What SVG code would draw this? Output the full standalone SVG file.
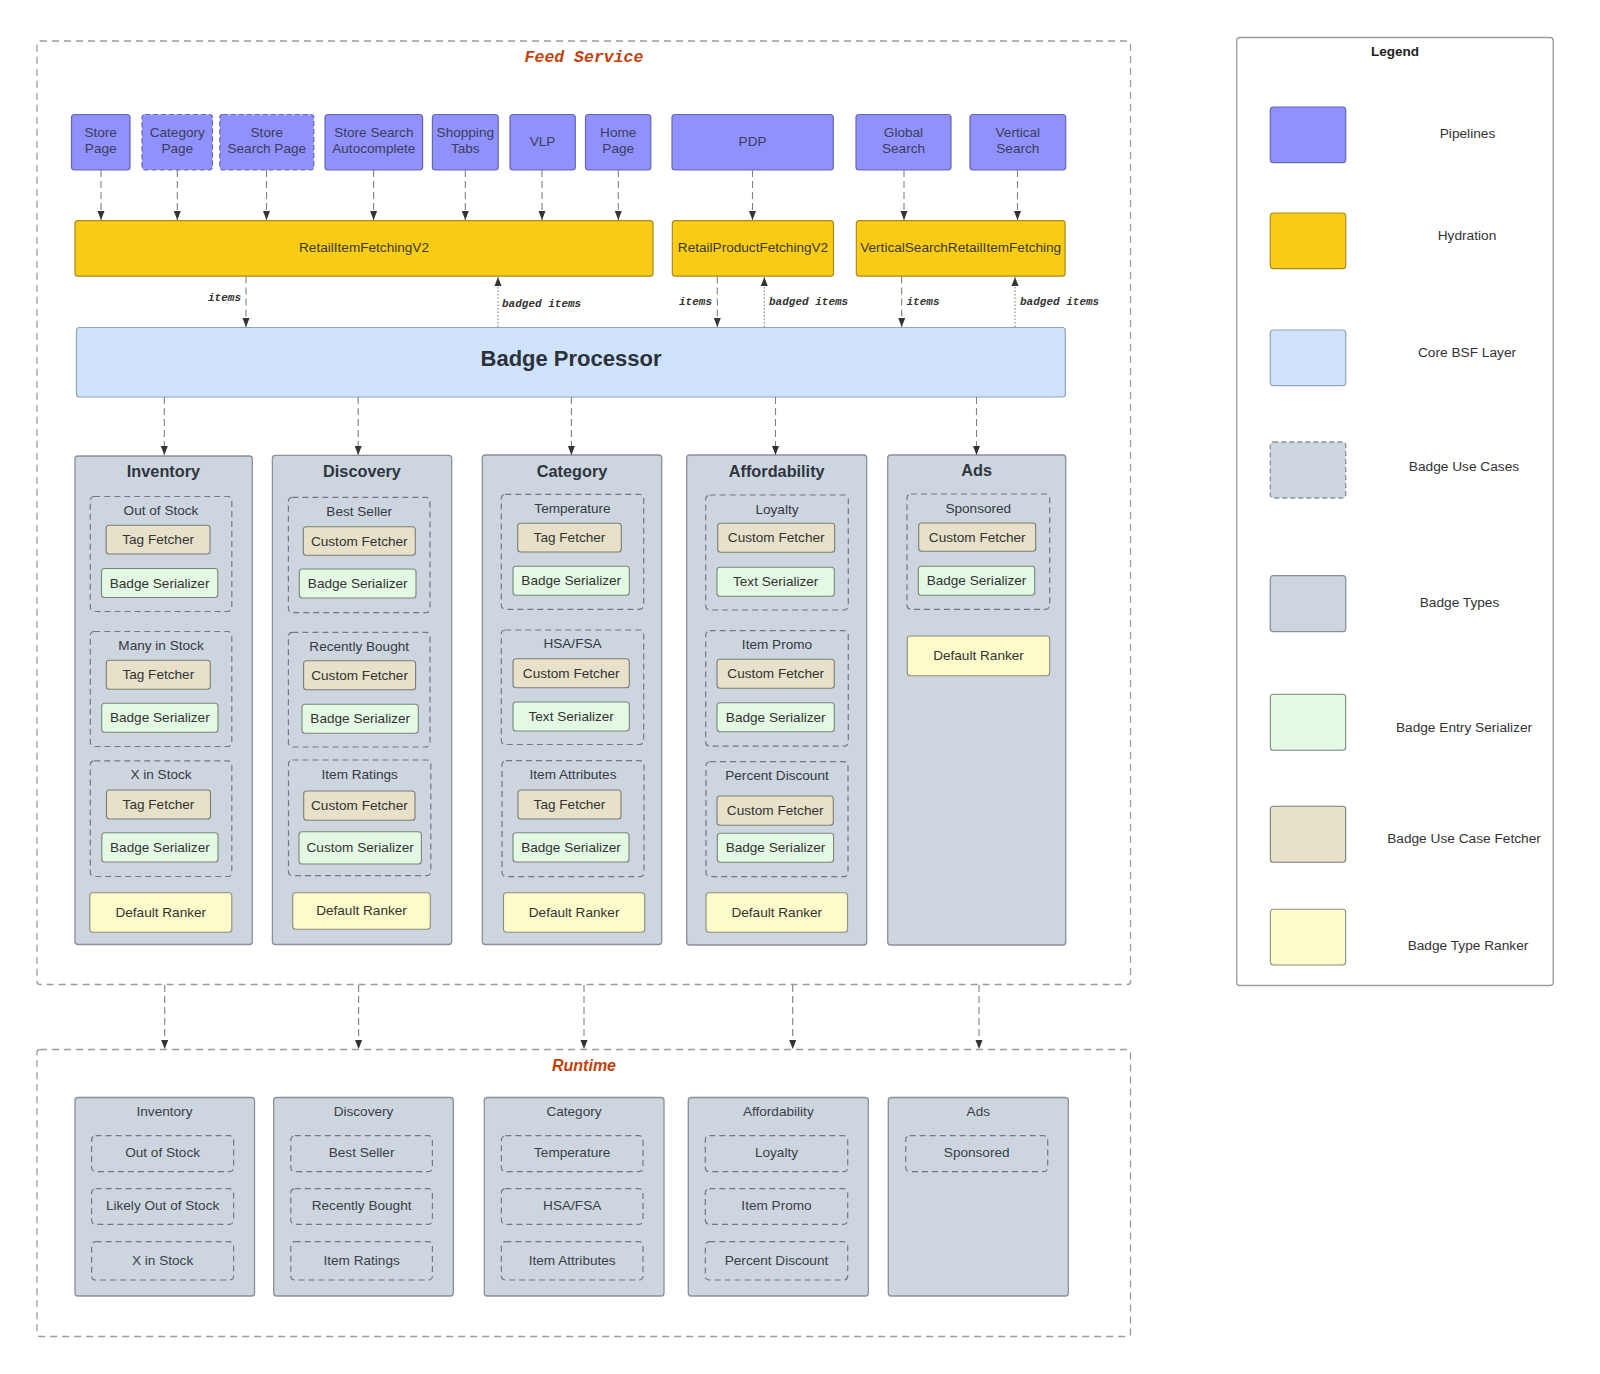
<svg xmlns="http://www.w3.org/2000/svg" width="1600" height="1374" viewBox="0 0 1600 1374">
<defs>
<marker id="ah" markerUnits="userSpaceOnUse" markerWidth="9" markerHeight="8" refX="9" refY="4" orient="auto">
<path d="M0,0.5 L9,4 L0,7.5 z" fill="#333"/>
</marker>
<style>
text{font-family:"Liberation Sans",Arial,sans-serif;fill:#333;text-anchor:middle;dominant-baseline:central}
.frame{fill:none;stroke:#9c9c9c;stroke-width:1.3;stroke-dasharray:7,5}
.pipe{fill:#9191fd;stroke:#6565b5;stroke-width:1.2}
.pipe.d{stroke-dasharray:5,3}
.pt{font-size:13.6px;fill:#3a3d5c}
.hyd{fill:#facc15;stroke:#a98a1a;stroke-width:1.2}
.ht{font-size:13.6px;fill:#3a3a2a}
.bp{fill:#cfe3fd;stroke:#92a3b8;stroke-width:1.2}
.cat{fill:#cdd5df;stroke:#8a9099;stroke-width:1.3}
.ct{font-size:16.3px;font-weight:bold;fill:#2f3540}
.uc{fill:none;stroke:#737983;stroke-width:1.2;stroke-dasharray:6,4}
.ut{font-size:13.6px;fill:#353a44}
.fet{fill:#e6e1c8;stroke:#7d7d78;stroke-width:1.1}
.ser{fill:#e3f9e4;stroke:#7b857c;stroke-width:1.1}
.rnk{fill:#fdfbc9;stroke:#8d8d80;stroke-width:1.1}
.bt{font-size:13.6px;fill:#333}
.rt{font-size:13.6px;fill:#3a3f48}
.cn{fill:none;stroke:#808080;stroke-width:1.1;stroke-dasharray:7,4}
.dot{fill:none;stroke:#808080;stroke-width:1.1;stroke-dasharray:1.5,2}
.lbl{font-family:"Liberation Mono","Courier New",monospace;font-size:11px;font-weight:bold;font-style:italic;fill:#333}
.lg{fill:none;stroke:#9c9c9c;stroke-width:1.3}
.lt{font-size:13.7px;fill:#333}
</style>
</defs>
<rect width="1600" height="1374" fill="#ffffff"/>

<!-- Frames -->
<g id="feed-service">
<rect class="frame" x="37" y="41" width="1093.5" height="943.5" rx="3"/>
<text x="584" y="57" style="font-family:'Liberation Mono','Courier New',monospace;font-size:16.5px;font-weight:bold;font-style:italic;fill:#c2410c">Feed Service</text>
</g>
<g id="runtime">
<rect class="frame" x="37" y="1049.5" width="1093.5" height="287" rx="3"/>
<text x="584" y="1065" style="font-size:16px;font-weight:bold;font-style:italic;fill:#c2410c">Runtime</text>
</g>

<!-- Pipelines -->
<g id="p-store-page"><rect class="pipe" x="71.5" y="114.5" width="58.5" height="55.5" rx="3"/><text class="pt" x="100.7" y="132">Store</text><text class="pt" x="100.7" y="148.5">Page</text></g>
<g id="p-category-page"><rect class="pipe d" x="142" y="114.5" width="70.5" height="55.5" rx="3"/><text class="pt" x="177.3" y="132">Category</text><text class="pt" x="177.3" y="148.5">Page</text></g>
<g id="p-store-search-page"><rect class="pipe d" x="219.8" y="114.5" width="94" height="55.5" rx="3"/><text class="pt" x="266.8" y="132">Store</text><text class="pt" x="266.8" y="148.5">Search Page</text></g>
<g id="p-autocomplete"><rect class="pipe" x="325" y="114.5" width="97.6" height="55.5" rx="3"/><text class="pt" x="373.8" y="132">Store Search</text><text class="pt" x="373.8" y="148.5">Autocomplete</text></g>
<g id="p-shopping-tabs"><rect class="pipe" x="432.4" y="114.5" width="65.8" height="55.5" rx="3"/><text class="pt" x="465.3" y="132">Shopping</text><text class="pt" x="465.3" y="148.5">Tabs</text></g>
<g id="p-vlp"><rect class="pipe" x="510" y="114.5" width="65.3" height="55.5" rx="3"/><text class="pt" x="542.6" y="141">VLP</text></g>
<g id="p-home-page"><rect class="pipe" x="585.5" y="114.5" width="65.3" height="55.5" rx="3"/><text class="pt" x="618.2" y="132">Home</text><text class="pt" x="618.2" y="148.5">Page</text></g>
<g id="p-pdp"><rect class="pipe" x="672" y="114.5" width="161.3" height="55.5" rx="3"/><text class="pt" x="752.6" y="141">PDP</text></g>
<g id="p-global-search"><rect class="pipe" x="856" y="114.5" width="95" height="55.5" rx="3"/><text class="pt" x="903.5" y="132">Global</text><text class="pt" x="903.5" y="148.5">Search</text></g>
<g id="p-vertical-search"><rect class="pipe" x="970" y="114.5" width="95.7" height="55.5" rx="3"/><text class="pt" x="1017.8" y="132">Vertical</text><text class="pt" x="1017.8" y="148.5">Search</text></g>

<!-- Hydration -->
<g id="h-retail-item"><rect class="hyd" x="75" y="220.7" width="578" height="55.5" rx="3"/><text class="ht" x="364" y="247.5">RetailItemFetchingV2</text></g>
<g id="h-retail-product"><rect class="hyd" x="672.3" y="220.7" width="161.2" height="55.5" rx="3"/><text class="ht" x="753" y="247.5">RetailProductFetchingV2</text></g>
<g id="h-vertical-search"><rect class="hyd" x="856.3" y="220.7" width="208.8" height="55.5" rx="3"/><text class="ht" x="960.7" y="247.5">VerticalSearchRetailItemFetching</text></g>

<!-- Badge Processor -->
<g id="badge-processor"><rect class="bp" x="76.5" y="327.5" width="988.8" height="69.5" rx="3"/><text x="571" y="358.5" style="font-size:22px;font-weight:bold;fill:#2c313a">Badge Processor</text></g>

<!-- Badge Types: Inventory -->
<g id="t-inventory">
<rect class="cat" x="75" y="456" width="177.3" height="488.5" rx="3"/>
<text class="ct" x="163.5" y="471">Inventory</text>
<rect class="uc" x="90.3" y="496.5" width="141.5" height="115" rx="4"/>
<text class="ut" x="161" y="510">Out of Stock</text>
<rect class="fet" x="106.2" y="525.3" width="103.8" height="28.7" rx="3"/><text class="bt" x="158.1" y="539.7">Tag Fetcher</text>
<rect class="ser" x="101.5" y="568.5" width="116.3" height="29" rx="3"/><text class="bt" x="159.6" y="583">Badge Serializer</text>
<rect class="uc" x="90.3" y="631.5" width="141.5" height="115" rx="4"/>
<text class="ut" x="161" y="645">Many in Stock</text>
<rect class="fet" x="106.3" y="660.3" width="104" height="28.9" rx="3"/><text class="bt" x="158.3" y="674.8">Tag Fetcher</text>
<rect class="ser" x="101.7" y="703.3" width="116.3" height="28.9" rx="3"/><text class="bt" x="159.8" y="717.8">Badge Serializer</text>
<rect class="uc" x="90.3" y="760.8" width="141.5" height="115.7" rx="4"/>
<text class="ut" x="161" y="774.5">X in Stock</text>
<rect class="fet" x="106.5" y="790" width="104" height="29" rx="3"/><text class="bt" x="158.5" y="804.5">Tag Fetcher</text>
<rect class="ser" x="101.8" y="832.8" width="116.2" height="29.2" rx="3"/><text class="bt" x="159.9" y="847.4">Badge Serializer</text>
<rect class="rnk" x="89.8" y="892.8" width="142" height="39.5" rx="3"/><text class="bt" x="160.8" y="912.6">Default Ranker</text>
</g>

<!-- Discovery -->
<g id="t-discovery">
<rect class="cat" x="272.4" y="455.3" width="179.3" height="489.2" rx="3"/>
<text class="ct" x="362" y="470.5">Discovery</text>
<rect class="uc" x="288.4" y="497.3" width="141.6" height="115.4" rx="4"/>
<text class="ut" x="359.2" y="511">Best Seller</text>
<rect class="fet" x="303.3" y="526.7" width="112" height="28.6" rx="3"/><text class="bt" x="359.3" y="541">Custom Fetcher</text>
<rect class="ser" x="299.3" y="569" width="116.7" height="29" rx="3"/><text class="bt" x="357.7" y="583.5">Badge Serializer</text>
<rect class="uc" x="288.4" y="632.3" width="141.6" height="114.7" rx="4"/>
<text class="ut" x="359.2" y="646">Recently Bought</text>
<rect class="fet" x="303.6" y="660.7" width="112" height="29" rx="3"/><text class="bt" x="359.6" y="675.2">Custom Fetcher</text>
<rect class="ser" x="302" y="704.3" width="116.3" height="29" rx="3"/><text class="bt" x="360.2" y="718.8">Badge Serializer</text>
<rect class="uc" x="288.5" y="760" width="142.3" height="115.7" rx="4"/>
<text class="ut" x="359.7" y="774.3">Item Ratings</text>
<rect class="fet" x="303.7" y="791" width="111.3" height="29.3" rx="3"/><text class="bt" x="359.4" y="805.7">Custom Fetcher</text>
<rect class="ser" x="299" y="831.7" width="122.4" height="32.3" rx="3"/><text class="bt" x="360.2" y="847.8">Custom Serializer</text>
<rect class="rnk" x="292.7" y="892.7" width="137.6" height="36.6" rx="3"/><text class="bt" x="361.5" y="910.5">Default Ranker</text>
</g>

<!-- Category -->
<g id="t-category">
<rect class="cat" x="482.3" y="455" width="179.4" height="489.5" rx="3"/>
<text class="ct" x="572" y="470.5">Category</text>
<rect class="uc" x="501.3" y="494.3" width="142.4" height="115" rx="4"/>
<text class="ut" x="572.5" y="508">Temperature</text>
<rect class="fet" x="517.7" y="523.3" width="103.6" height="28.7" rx="3"/><text class="bt" x="569.5" y="537.7">Tag Fetcher</text>
<rect class="ser" x="513" y="566.3" width="116.3" height="29" rx="3"/><text class="bt" x="571.2" y="580.8">Badge Serializer</text>
<rect class="uc" x="501.3" y="630" width="142.4" height="114.5" rx="4"/>
<text class="ut" x="572.5" y="643.5">HSA/FSA</text>
<rect class="fet" x="513" y="658.7" width="116.3" height="29" rx="3"/><text class="bt" x="571.2" y="673.2">Custom Fetcher</text>
<rect class="ser" x="513" y="702" width="116.3" height="29" rx="3"/><text class="bt" x="571.2" y="716.5">Text Serializer</text>
<rect class="uc" x="502" y="760.7" width="142" height="116" rx="4"/>
<text class="ut" x="573" y="774.5">Item Attributes</text>
<rect class="fet" x="518" y="790" width="103" height="29" rx="3"/><text class="bt" x="569.5" y="804.5">Tag Fetcher</text>
<rect class="ser" x="513" y="832.8" width="116" height="29.2" rx="3"/><text class="bt" x="571" y="847.4">Badge Serializer</text>
<rect class="rnk" x="503.5" y="892.8" width="141.2" height="39.5" rx="3"/><text class="bt" x="574.1" y="912.6">Default Ranker</text>
</g>

<!-- Affordability -->
<g id="t-affordability">
<rect class="cat" x="686.7" y="455" width="180" height="490" rx="3"/>
<text class="ct" x="776.7" y="470.5">Affordability</text>
<rect class="uc" x="705.7" y="495" width="142.6" height="115" rx="4"/>
<text class="ut" x="777" y="509">Loyalty</text>
<rect class="fet" x="717.7" y="523.3" width="117" height="29" rx="3"/><text class="bt" x="776.2" y="537.8">Custom Fetcher</text>
<rect class="ser" x="717" y="567.3" width="117.3" height="29" rx="3"/><text class="bt" x="775.7" y="581.8">Text Serializer</text>
<rect class="uc" x="705.7" y="630.7" width="142.6" height="115.5" rx="4"/>
<text class="ut" x="777" y="644">Item Promo</text>
<rect class="fet" x="717" y="659.3" width="117.3" height="29" rx="3"/><text class="bt" x="775.7" y="673.8">Custom Fetcher</text>
<rect class="ser" x="717" y="702.7" width="117.3" height="29" rx="3"/><text class="bt" x="775.7" y="717.2">Badge Serializer</text>
<rect class="uc" x="706" y="761.7" width="142" height="115" rx="4"/>
<text class="ut" x="777" y="775.3">Percent Discount</text>
<rect class="fet" x="717" y="796" width="116.3" height="29.3" rx="3"/><text class="bt" x="775.2" y="810.7">Custom Fetcher</text>
<rect class="ser" x="717.3" y="833.3" width="116.3" height="29" rx="3"/><text class="bt" x="775.5" y="847.8">Badge Serializer</text>
<rect class="rnk" x="706" y="892.8" width="141.6" height="39.5" rx="3"/><text class="bt" x="776.8" y="912.6">Default Ranker</text>
</g>

<!-- Ads -->
<g id="t-ads">
<rect class="cat" x="887.7" y="455" width="178" height="490" rx="3"/>
<text class="ct" x="976.7" y="470">Ads</text>
<rect class="uc" x="907" y="494" width="142.7" height="115.3" rx="4"/>
<text class="ut" x="978.3" y="508.3">Sponsored</text>
<rect class="fet" x="918.7" y="523" width="117" height="28.3" rx="3"/><text class="bt" x="977.2" y="537.2">Custom Fetcher</text>
<rect class="ser" x="918.3" y="566.3" width="116.4" height="29" rx="3"/><text class="bt" x="976.5" y="580.8">Badge Serializer</text>
<rect class="rnk" x="907.3" y="636" width="142.4" height="39.7" rx="3"/><text class="bt" x="978.5" y="655.8">Default Ranker</text>
</g>

<!-- Runtime types -->
<g id="r-inventory">
<rect class="cat" x="75" y="1097.5" width="179.5" height="198.5" rx="3"/>
<text class="rt" x="164.5" y="1111.5">Inventory</text>
<rect class="uc" x="91.6" y="1135.7" width="142" height="36" rx="4"/><text class="rt" x="162.6" y="1152">Out of Stock</text>
<rect class="uc" x="91.6" y="1188.7" width="142" height="35.6" rx="4"/><text class="rt" x="162.6" y="1205">Likely Out of Stock</text>
<rect class="uc" x="91.6" y="1241.7" width="142" height="38.3" rx="4"/><text class="rt" x="162.6" y="1260">X in Stock</text>
</g>
<g id="r-discovery">
<rect class="cat" x="273.7" y="1097.5" width="179.6" height="198.5" rx="3"/>
<text class="rt" x="363.5" y="1111.5">Discovery</text>
<rect class="uc" x="290.8" y="1135.7" width="141.6" height="36" rx="4"/><text class="rt" x="361.6" y="1152">Best Seller</text>
<rect class="uc" x="290.8" y="1188.7" width="141.6" height="35.6" rx="4"/><text class="rt" x="361.6" y="1205">Recently Bought</text>
<rect class="uc" x="290.8" y="1241.7" width="141.6" height="38.3" rx="4"/><text class="rt" x="361.6" y="1260">Item Ratings</text>
</g>
<g id="r-category">
<rect class="cat" x="484.3" y="1097.5" width="179.7" height="198.5" rx="3"/>
<text class="rt" x="574" y="1111.5">Category</text>
<rect class="uc" x="501.4" y="1135.7" width="141.6" height="36" rx="4"/><text class="rt" x="572.2" y="1152">Temperature</text>
<rect class="uc" x="501.4" y="1188.7" width="141.6" height="35.6" rx="4"/><text class="rt" x="572.2" y="1205">HSA/FSA</text>
<rect class="uc" x="501.4" y="1241.7" width="141.6" height="38.3" rx="4"/><text class="rt" x="572.2" y="1260">Item Attributes</text>
</g>
<g id="r-affordability">
<rect class="cat" x="688.3" y="1097.5" width="180" height="198.5" rx="3"/>
<text class="rt" x="778.3" y="1111.5">Affordability</text>
<rect class="uc" x="705.3" y="1135.7" width="142.4" height="36" rx="4"/><text class="rt" x="776.5" y="1152">Loyalty</text>
<rect class="uc" x="705.3" y="1188.7" width="142.4" height="35.6" rx="4"/><text class="rt" x="776.5" y="1205">Item Promo</text>
<rect class="uc" x="705.3" y="1241.7" width="142.4" height="38.3" rx="4"/><text class="rt" x="776.5" y="1260">Percent Discount</text>
</g>
<g id="r-ads">
<rect class="cat" x="888.3" y="1097.5" width="180" height="198.5" rx="3"/>
<text class="rt" x="978.3" y="1111.5">Ads</text>
<rect class="uc" x="905.7" y="1135.7" width="142" height="36" rx="4"/><text class="rt" x="976.7" y="1152">Sponsored</text>
</g>

<!-- Connectors -->
<g id="connectors">
<path class="cn" d="M101,170 V220" marker-end="url(#ah)"/>
<path class="cn" d="M177.3,170 V220" marker-end="url(#ah)"/>
<path class="cn" d="M266.5,170 V220" marker-end="url(#ah)"/>
<path class="cn" d="M373.6,170 V220" marker-end="url(#ah)"/>
<path class="cn" d="M465.3,170 V220" marker-end="url(#ah)"/>
<path class="cn" d="M542,170 V220" marker-end="url(#ah)"/>
<path class="cn" d="M618.3,170 V220" marker-end="url(#ah)"/>
<path class="cn" d="M752.5,170 V220" marker-end="url(#ah)"/>
<path class="cn" d="M904,170 V220" marker-end="url(#ah)"/>
<path class="cn" d="M1017.5,170 V220" marker-end="url(#ah)"/>

<path class="cn" d="M246,276.5 V327" marker-end="url(#ah)"/>
<path class="dot" d="M498,327 V277" marker-end="url(#ah)"/>
<path class="cn" d="M717.3,276.5 V327" marker-end="url(#ah)"/>
<path class="dot" d="M764.3,327 V277" marker-end="url(#ah)"/>
<path class="cn" d="M901.7,276.5 V327" marker-end="url(#ah)"/>
<path class="dot" d="M1015,327 V277" marker-end="url(#ah)"/>
<text class="lbl" x="241" y="298" style="text-anchor:end">items</text>
<text class="lbl" x="502" y="304" style="text-anchor:start">badged items</text>
<text class="lbl" x="712" y="302" style="text-anchor:end">items</text>
<text class="lbl" x="769" y="302" style="text-anchor:start">badged items</text>
<text class="lbl" x="906.5" y="302" style="text-anchor:start">items</text>
<text class="lbl" x="1020" y="302" style="text-anchor:start">badged items</text>

<path class="cn" d="M164.3,397 V455" marker-end="url(#ah)"/>
<path class="cn" d="M358.2,397 V455" marker-end="url(#ah)"/>
<path class="cn" d="M571.4,397 V455" marker-end="url(#ah)"/>
<path class="cn" d="M775.5,397 V455" marker-end="url(#ah)"/>
<path class="cn" d="M976.5,397 V455" marker-end="url(#ah)"/>

<path class="cn" d="M164.7,985 V1049" marker-end="url(#ah)"/>
<path class="cn" d="M358.6,985 V1049" marker-end="url(#ah)"/>
<path class="cn" d="M584,985 V1049" marker-end="url(#ah)"/>
<path class="cn" d="M792.7,985 V1049" marker-end="url(#ah)"/>
<path class="cn" d="M979,985 V1049" marker-end="url(#ah)"/>
</g>

<!-- Legend -->
<g id="legend">
<rect class="lg" x="1236.7" y="37.5" width="316.5" height="948" rx="3"/>
<text x="1395" y="51.5" style="font-size:13.5px;font-weight:bold;fill:#222">Legend</text>
<rect class="pipe" x="1270.3" y="107" width="75.4" height="55.7" rx="3"/><text class="lt" x="1467.5" y="133.5">Pipelines</text>
<rect class="hyd" x="1270.3" y="213" width="75.4" height="55.7" rx="3"/><text class="lt" x="1467" y="235">Hydration</text>
<rect class="bp" x="1270.3" y="330" width="75.4" height="55.7" rx="3"/><text class="lt" x="1467" y="352">Core BSF Layer</text>
<rect class="cat" x="1270.3" y="442" width="75.4" height="56" rx="3" style="stroke-dasharray:5,3"/><text class="lt" x="1464" y="466">Badge Use Cases</text>
<rect class="cat" x="1270.3" y="575.7" width="75.4" height="56" rx="3"/><text class="lt" x="1459.5" y="602">Badge Types</text>
<rect class="ser" x="1270.3" y="694.3" width="75.4" height="56" rx="3"/><text class="lt" x="1464" y="727">Badge Entry Serializer</text>
<rect class="fet" x="1270.3" y="806.3" width="75.4" height="56" rx="3"/><text class="lt" x="1464" y="838">Badge Use Case Fetcher</text>
<rect class="rnk" x="1270.3" y="909.3" width="75.4" height="55.7" rx="3"/><text class="lt" x="1468" y="945">Badge Type Ranker</text>
</g>
</svg>
